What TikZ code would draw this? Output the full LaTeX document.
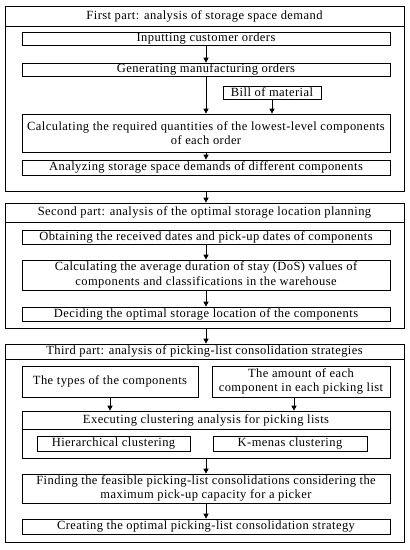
\documentclass[tikz,border=0pt]{standalone}
\usepackage{fontspec}
\setmainfont{Liberation Serif}[LetterSpace=3.5]
\usetikzlibrary{arrows.meta}
\usetikzlibrary{positioning}

\tikzset{
  stepbox/.style={draw, line width=0.7pt, inner sep=0pt, align=center,
    font=\fontsize{12.5}{14.5}\selectfont},
  partbox/.style={draw, line width=0.7pt, inner sep=0pt},
  titlebox/.style={draw, line width=0.7pt, inner sep=0pt, align=center,
    font=\fontsize{12.5}{14.5}\selectfont},
  flow/.style={-{Triangle[length=5pt,width=5pt]}, line width=0.7pt},
}

\begin{document}
\begin{tikzpicture}[x=1pt,y=-1pt]
      \useasboundingbox (0,0) rectangle (410,550);

      % first part
      \node[partbox, minimum width=399pt, minimum height=185pt] (part1) at (204.5,98.5) {};
      \node[titlebox, minimum width=399pt, minimum height=20pt, anchor=north] (t1) at (part1.north) {First part: analysis of storage space demand};
      \node[stepbox, minimum width=368pt, minimum height=13pt] (input) at (206,38.5) {Inputting customer orders};
      \node[stepbox, minimum width=368pt, minimum height=13pt] (gen) at (206,69.5) {Generating manufacturing orders};
      \node[stepbox, minimum width=98pt, minimum height=13pt] (bom) at (272,92.5) {Bill of material};
      \node[stepbox, minimum width=368pt, minimum height=38pt] (calc) at (206,133) {Calculating the required quantities of the lowest-level components\\of each order};
      \node[stepbox, minimum width=368pt, minimum height=15pt] (analyze) at (206,167.5) {Analyzing storage space demands of different components};

      \draw[flow] (input) -- (gen);
      \draw[flow] (gen) -- (calc);
      \draw[flow] (bom) -- (calc.north -| bom);
      \draw[flow] (calc) -- (analyze);

      % second part
      \node[partbox, minimum width=399pt, minimum height=125pt] (part2) at (204.5,265.5) {};
      \node[titlebox, minimum width=399pt, minimum height=19pt, anchor=north] (t2) at (part2.north) {Second part: analysis of the optimal storage location planning};
      \node[stepbox, minimum width=368pt, minimum height=14pt] (obtain) at (206,237) {Obtaining the received dates and pick-up dates of components};
      \node[stepbox, minimum width=368pt, minimum height=30pt] (avg) at (206,275) {Calculating the average duration of stay (DoS) values of\\components and classifications in the warehouse};
      \node[stepbox, minimum width=368pt, minimum height=14pt] (decide) at (206,314) {Deciding the optimal storage location of the components};

      \draw[flow] (part1.south -| input) -- (part2.north -| input);
      \draw[flow] (obtain) -- (avg);
      \draw[flow] (avg) -- (decide);

      % third part
      \node[partbox, minimum width=399pt, minimum height=198pt] (part3) at (204.5,443) {};
      \node[titlebox, minimum width=399pt, minimum height=15pt, anchor=north] (t3) at (part3.north) {Third part: analysis of picking-list consolidation strategies};
      \node[stepbox, minimum width=176pt, minimum height=31pt] (types) at (110,381.5) {The types of the components};
      \node[stepbox, minimum width=178pt, minimum height=31pt] (amount) at (301,381.5) {The amount of each\\component in each picking list};
      \node[partbox, minimum width=368pt, minimum height=47pt] (exec) at (206,434.5) {};
      \node[titlebox, minimum width=368pt, minimum height=18pt, anchor=north] (exectitle) at (exec.north) {Executing clustering analysis for picking lists};
      \node[stepbox, minimum width=153pt, minimum height=15pt] (hier) at (113.5,443.5) {Hierarchical clustering};
      \node[stepbox, minimum width=154pt, minimum height=15pt] (kmeans) at (290,443.5) {K-menas clustering};
      \node[stepbox, minimum width=368pt, minimum height=29pt] (find) at (206,488.5) {Finding the feasible picking-list consolidations considering the\\maximum pick-up capacity for a picker};
      \node[stepbox, minimum width=368pt, minimum height=15pt] (create) at (206,526.5) {Creating the optimal picking-list consolidation strategy};

      \draw[flow] (part2.south -| input) -- (part3.north -| input);
      \draw[flow] (types) -- (exec.north -| types);
      \draw[flow] ([xshift=-7pt]amount.south) -- ([xshift=-7pt]exec.north -| amount);
      \draw[flow] (exec) -- (find);
      \draw[flow] (find) -- (create);
\end{tikzpicture}
\end{document}
